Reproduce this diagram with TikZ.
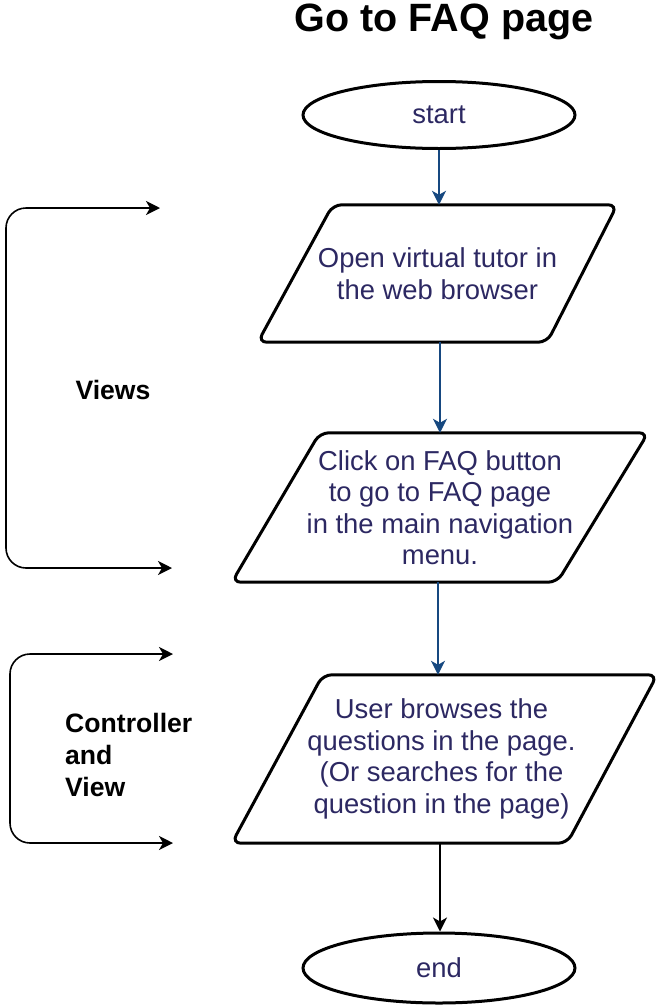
\documentclass[tikz,border=0pt]{standalone}
\usepackage{fontspec}
\setmainfont{Liberation Sans}
\usetikzlibrary{arrows.meta,calc,shapes.geometric}

\definecolor{flowblue}{RGB}{22,72,128}
\definecolor{flowtext}{RGB}{44,40,98}

\begin{document}
\begin{tikzpicture}[x=1pt,y=-1pt,
  font=\fontsize{27.4}{31.5}\selectfont,
  terminal/.style={draw=black, line width=3pt, ellipse, inner sep=0pt,
    minimum width=272pt, minimum height=67pt, text=flowtext},
  iobox/.style={inner sep=0pt, align=center, text=flowtext},
  iooutline/.style={draw=black, line width=3pt, rounded corners=9pt},
  flowarrow/.style={draw=flowblue, line width=1.8pt,
    -{Stealth[length=14pt, width=14pt, inset=4pt]}},
  endarrow/.style={draw=black, line width=1.8pt,
    -{Stealth[length=14pt, width=14pt, inset=4pt]}},
  bracket/.style={draw=black, line width=1.6pt, rounded corners=20pt,
    {Stealth[length=14pt, width=14pt, inset=4pt]}-{Stealth[length=14pt, width=14pt, inset=4pt]}},
  grouplabel/.style={font=\fontsize{26.6}{32}\selectfont\bfseries, inner sep=0pt}
]
\useasboundingbox (0,0) rectangle (660,1007);

% title
\node[font=\fontsize{39.5}{42}\selectfont\bfseries, inner sep=0pt] (title) at (444,22) {Go to FAQ page};

% terminals
\node[terminal] (start) at (439,115) {start};
\node[terminal, minimum height=70pt] (end) at (439,968) {end};

% input/output steps: text nodes sized to the outline, outline drawn from their corners
\node[iobox, minimum width=359pt, minimum height=137pt] (p1) at (437.5,273.5)
  {Open virtual tutor in\\ the web browser};
\node[iobox, minimum width=416pt, minimum height=149pt] (p2) at (440,507.5)
  {Click on FAQ button\\ to go to FAQ page\\ in the main navigation\\ menu.};
\node[iobox, minimum width=425pt, minimum height=168pt] (p3) at (444.5,759)
  {\hspace*{-6pt}User browses the\\ \hspace*{-6pt}questions in the page.\\ \hspace*{-6pt}(Or searches for the\\ \hspace*{-6pt}question in the page)};

\draw[iooutline] ($(p1.north west)+(75,0)$) -- (p1.north east) -- ($(p1.south east)-(70,0)$) -- (p1.south west) -- cycle;
\draw[iooutline] ($(p2.north west)+(88,0)$) -- (p2.north east) -- ($(p2.south east)-(91,0)$) -- (p2.south west) -- cycle;
\draw[iooutline] ($(p3.north west)+(91,0)$) -- (p3.north east) -- ($(p3.south east)-(90,0)$) -- (p3.south west) -- cycle;

% flow connectors
\draw[flowarrow] (start.south) -- (start.south |- p1.north);
\draw[flowarrow] ($(p1.south)+(2.5,0)$) -- ($(p1.south |- p2.north)+(2.5,0)$);
\draw[flowarrow] ($(p2.south)+(-2,0)$) -- ($(p2.south |- p3.north)+(-2,0)$);
\draw[endarrow] ($(p3.south)+(-4.5,0)$) -- ($(p3.south |- end.north)+(-4.5,0)$);

% group brackets on the left
\coordinate (viewsTop) at (160,208);
\coordinate (viewsBottom) at (172,568);
\coordinate (viewsSide) at (6,388);
\draw[bracket] (viewsTop) -| (viewsSide) |- (viewsBottom);
\node[grouplabel] (views) at (113,390) {Views};

\coordinate (cvTop) at (173,654);
\coordinate (cvBottom) at (173,843);
\coordinate (cvSide) at (10,750);
\draw[bracket] (cvTop) -| (cvSide) |- (cvBottom);
\node[grouplabel, anchor=west, align=left] (cv) at (65,755) {Controller\\ and\\ View};

\end{tikzpicture}
\end{document}
